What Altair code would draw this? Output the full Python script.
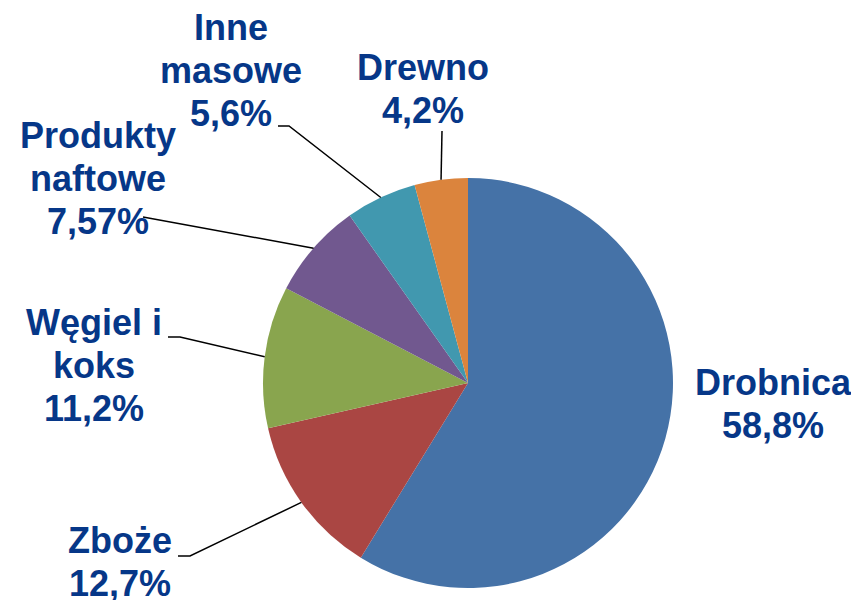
import math
import altair as alt
import pandas as pd

# ---- data ----
categories = ["Drobnica", "Zboże", "Węgiel i koks", "Produkty naftowe", "Inne masowe", "Drewno"]
values = [58.8, 12.7, 11.2, 7.57, 5.6, 4.2]
colors = ["#4572A7", "#AA4643", "#89A54E", "#71588F", "#4198AF", "#DB843D"]

# ---- layout (pixels in chart coordinates) ----
W, H = 843, 592
CX, CY, R = 460, 375, 205
label_lines = {
    "Drobnica": "Drobnica",
    "Zboże": "Zboże",
    "Węgiel i koks": "Węgiel i\nkoks",
    "Produkty naftowe": "Produkty\nnaftowe",
    "Inne masowe": "Inne\nmasowe",
    "Drewno": "Drewno",
}
label_pos = {
    "Drobnica": (765, 387),
    "Zboże": (112, 545),
    "Węgiel i koks": (86, 327),
    "Produkty naftowe": (90, 140),
    "Inne masowe": (223, 32),
    "Drewno": (415, 72),
}
leader_elbows = {
    "Zboże": [(170, 548), (182, 548)],
    "Węgiel i koks": [(160, 329), (172, 329)],
    "Produkty naftowe": [(135, 209)],
    "Inne masowe": [(270, 118), (281, 118)],
    "Drewno": [(434, 123)],
}

def fmt(v):
    return (str(v).replace(".", ",")) + "%"

pie_df = pd.DataFrame({
    "cat": categories,
    "value": values,
    "order": list(range(len(categories))),
    "cx": [CX] * len(categories),
    "cy": [CY] * len(categories),
})

total = sum(values)
cum = 0.0
mid_angle = {}
for c, v in zip(categories, values):
    mid_angle[c] = (cum + v / 2) / total * 2 * math.pi
    cum += v

line_rows = []
for c, pts in leader_elbows.items():
    a = mid_angle[c]
    seq = 0
    for (px, py) in pts:
        line_rows.append({"cat": c, "seq": seq, "x": px, "y": py})
        seq += 1
    line_rows.append({"cat": c, "seq": seq, "x": CX + R * math.sin(a), "y": CY - R * math.cos(a)})
line_df = pd.DataFrame(line_rows)

text_df = pd.DataFrame({
    "cat": categories,
    "txt": [label_lines[c] + "\n" + fmt(v) for c, v in zip(categories, values)],
    "x": [label_pos[c][0] for c in categories],
    "y": [label_pos[c][1] for c in categories],
})

xs = alt.Scale(domain=[0, W], range=[0, W], nice=False, zero=False)
ys = alt.Scale(domain=[0, H], range=[0, H], nice=False, zero=False)

pie = alt.Chart(pie_df).mark_arc(outerRadius=R).encode(
    x=alt.X("cx:Q", scale=xs, axis=None),
    y=alt.Y("cy:Q", scale=ys, axis=None),
    theta=alt.Theta("value:Q", stack=True),
    order=alt.Order("order:Q"),
    color=alt.Color("cat:N", scale=alt.Scale(domain=categories, range=colors), legend=None),
)

lines = alt.Chart(line_df).mark_line(color="black", strokeWidth=1.5).encode(
    x=alt.X("x:Q", scale=xs, axis=None),
    y=alt.Y("y:Q", scale=ys, axis=None),
    detail="cat:N",
    order="seq:Q",
)

texts = alt.Chart(text_df).mark_text(
    font="Liberation Sans", fontWeight="bold", fontSize=36, lineHeight=43,
    lineBreak="\n", align="center", baseline="alphabetic", color="#063788",
).encode(
    x=alt.X("x:Q", scale=xs, axis=None),
    y=alt.Y("y:Q", scale=ys, axis=None),
    text="txt:N",
)

chart = alt.layer(pie, lines, texts).properties(
    width=W, height=H, padding=0, autosize=alt.AutoSizeParams(type="none")
).configure_view(stroke=None)

chart.save("out.html", embed_options={"renderer": "svg", "actions": False})
